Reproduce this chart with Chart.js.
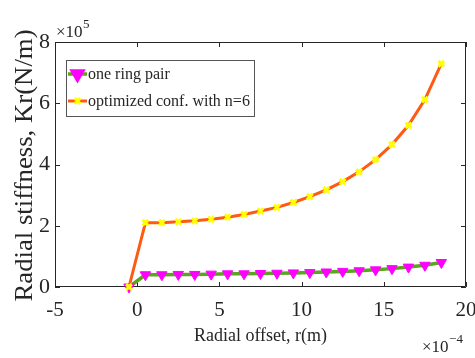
<!DOCTYPE html>
<html>
<head>
<meta charset="utf-8">
<script src="https://cdn.jsdelivr.net/npm/chart.js@4.4.1/dist/chart.umd.min.js"></script>
<style>
    html, body { margin: 0; padding: 0; background: #fff; }
    #wrap { width: 475px; height: 358px; }
</style>
</head>
<body>
<div id="wrap"><canvas id="krChart" width="475" height="358"></canvas></div>
<script>
// radial offset in 1e-4 m, stiffness in 1e5 N/m
const radialOffset = [-0.5, 0.5, 1.5, 2.5, 3.5, 4.5, 5.5, 6.5, 7.5, 8.5, 9.5,
    10.5, 11.5, 12.5, 13.5, 14.5, 15.5, 16.5, 17.5, 18.5];
const oneRingPair = [0, 0.40, 0.40, 0.41, 0.41, 0.42, 0.43, 0.43, 0.44, 0.45, 0.46,
    0.47, 0.49, 0.51, 0.53, 0.56, 0.60, 0.65, 0.71, 0.80];
const optimizedConf = [0, 2.10, 2.10, 2.13, 2.16, 2.21, 2.28, 2.37, 2.48, 2.60, 2.76,
    2.95, 3.17, 3.44, 3.76, 4.16, 4.65, 5.28, 6.12, 7.29];
const seriesLabels = ['one ring pair', 'optimized conf. with n=6'];
const xTicks = [-5, 0, 5, 10, 15, 20];
const yTicks = [0, 2, 4, 6, 8];
const yTitle = 'Radial stiffness, Kr(N/m)';

const inkColor = '#262626';
const serif = '"Liberation Serif", "Times New Roman", serif';

const toPoints = (ys) => ys.map((y, i) => ({ x: radialOffset[i], y: y }));

// "×10" with a superscript exponent
function drawExponent(ctx, exp, x, y) {
    ctx.font = '17px ' + serif;
    ctx.fillText('\u00d710', x, y);
    const w = ctx.measureText('\u00d710').width;
    ctx.font = '13px ' + serif;
    ctx.fillText(exp, x + w + 0.5, y - 9);
}

// box around the plot, ticks pointing inward, exponent labels, legend
const matlabFrame = {
    id: 'matlabFrame',
    beforeDatasetsDraw(chart) {
        const { ctx, chartArea: a, scales } = chart;
        const len = 5;
        ctx.save();
        ctx.strokeStyle = inkColor;
        ctx.lineWidth = 1;
        ctx.beginPath();
        ctx.rect(a.left + 0.5, a.top + 0.5, a.right - a.left - 1, a.bottom - a.top - 1);
        xTicks.forEach(v => {
            const px = Math.round(scales.x.getPixelForValue(v)) + 0.5;
            ctx.moveTo(px, a.bottom); ctx.lineTo(px, a.bottom - len);
            ctx.moveTo(px, a.top); ctx.lineTo(px, a.top + len);
        });
        yTicks.forEach(v => {
            const py = Math.round(scales.y.getPixelForValue(v)) + 0.5;
            ctx.moveTo(a.left, py); ctx.lineTo(a.left + len, py);
            ctx.moveTo(a.right, py); ctx.lineTo(a.right - len, py);
        });
        ctx.stroke();
        ctx.restore();
    },
    afterDraw(chart) {
        const { ctx, chartArea: a } = chart;
        ctx.save();
        ctx.fillStyle = inkColor;
        ctx.textBaseline = 'alphabetic';
        ctx.textAlign = 'left';
        drawExponent(ctx, '5', 56, 37);
        drawExponent(ctx, '\u22124', 422, 352);

        // y title, stretched along its length like the original figure
        ctx.save();
        ctx.translate(25, (a.top + a.bottom) / 2 + 1);
        ctx.rotate(-Math.PI / 2);
        ctx.scale(1.07, 1);
        ctx.font = '25px ' + serif;
        ctx.textAlign = 'center';
        ctx.textBaseline = 'middle';
        ctx.fillText(yTitle, 0, 0);
        ctx.restore();

        // legend
        const box = { x: 66.5, y: 60.5, w: 188, h: 56 };
        ctx.fillStyle = '#ffffff';
        ctx.fillRect(box.x, box.y, box.w, box.h);
        ctx.strokeStyle = '#555555';
        ctx.lineWidth = 1;
        ctx.strokeRect(box.x, box.y, box.w, box.h);
        const rows = [74, 101];
        chart.data.datasets.forEach((ds, i) => {
            const y = rows[i];
            ctx.strokeStyle = ds.borderColor;
            ctx.lineWidth = ds.borderWidth;
            ctx.beginPath();
            ctx.moveTo(68, y); ctx.lineTo(87, y);
            ctx.stroke();
            ctx.fillStyle = ds.pointBackgroundColor;
            ctx.strokeStyle = ds.pointBorderColor;
            Chart.helpers.drawPoint(ctx, {
                pointStyle: ds.pointStyle,
                rotation: ds.pointRotation,
                radius: ds.pointRadius,
                borderWidth: ds.pointBorderWidth
            }, 77.5, y);
            ctx.fillStyle = inkColor;
            ctx.font = '16px ' + serif;
            ctx.textAlign = 'left';
            ctx.textBaseline = 'middle';
            ctx.fillText(ds.label, 88, y + 1);
        });
        ctx.restore();
    }
};

new Chart(document.getElementById('krChart'), {
    type: 'line',
    data: {
        datasets: [{
            label: seriesLabels[0],
            data: toPoints(oneRingPair),
            borderColor: '#5ba521',
            borderWidth: 3.5,
            pointStyle: 'triangle',
            pointRotation: 180,
            pointRadius: 6,
            pointBorderWidth: 1,
            pointBackgroundColor: '#ff00ff',
            pointBorderColor: '#ff00ff',
            order: 2,
            clip: false
        }, {
            label: seriesLabels[1],
            data: toPoints(optimizedConf),
            borderColor: '#ff5a12',
            borderWidth: 3,
            pointStyle: 'crossRot',
            pointRotation: 0,
            pointRadius: 4,
            pointBorderWidth: 3,
            pointBackgroundColor: '#ffff00',
            pointBorderColor: '#ffff00',
            order: 1,
            clip: false
        }]
    },
    options: {
        responsive: false,
        animation: false,
        layout: { padding: { left: 0, right: 9, top: 42, bottom: 0 } },
        plugins: {
            legend: { display: false },
            tooltip: { enabled: false }
        },
        scales: {
            x: {
                type: 'linear',
                min: -5,
                max: 20,
                grid: { display: false, drawTicks: false },
                border: { display: false },
                ticks: {
                    stepSize: 5,
                    padding: 11,
                    color: inkColor,
                    maxRotation: 0,
                    font: { family: serif, size: 21 }
                },
                title: {
                    display: true,
                    text: 'Radial offset, r(m)',
                    color: inkColor,
                    font: { family: serif, size: 18 },
                    padding: { top: 0, bottom: 11 }
                },
                afterFit(scale) {
                    scale.height = 71;
                    scale.paddingLeft = 0;
                    scale.paddingRight = 0;
                }
            },
            y: {
                min: 0,
                max: 8,
                grid: { display: false, drawTicks: false },
                border: { display: false },
                ticks: {
                    stepSize: 2,
                    padding: 5,
                    color: inkColor,
                    font: { family: serif, size: 22 }
                },
                title: { display: false },
                afterFit(scale) {
                    scale.width = 55;
                    scale.paddingTop = 0;
                    scale.paddingBottom = 0;
                }
            }
        }
    },
    plugins: [matlabFrame]
});
</script>
</body>
</html>
